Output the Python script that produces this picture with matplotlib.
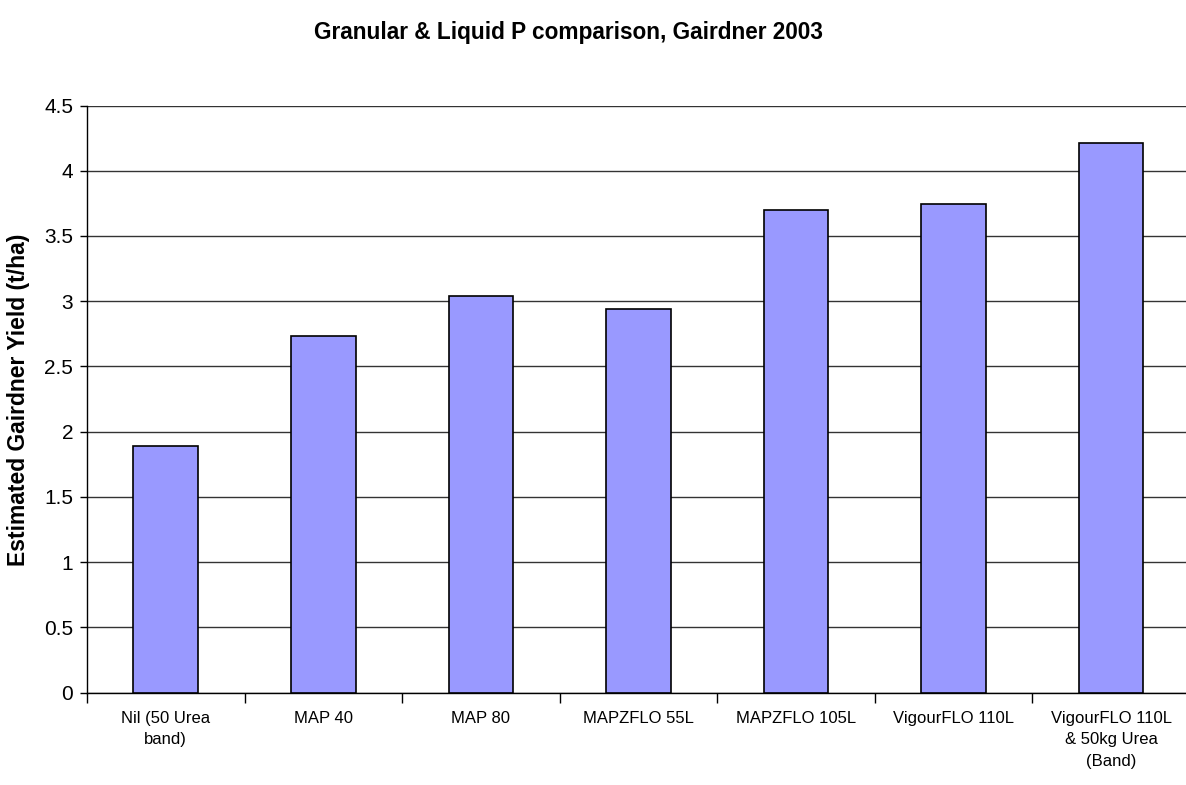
import numpy as np
import matplotlib
matplotlib.use("Agg")
from matplotlib import pyplot as plt

plt.rcParams['font.family'] = ['Liberation Sans', 'DejaVu Sans']

# data
treatments = ["Nil (50 Urea\nband)", "MAP 40", "MAP 80", "MAPZFLO 55L",
              "MAPZFLO 105L", "VigourFLO 110L", "VigourFLO 110L\n& 50kg Urea\n(Band)"]
yieldValues = [1.89, 2.73, 3.04, 2.94, 3.70, 3.745, 4.21]
yTicks = [0, 0.5, 1, 1.5, 2, 2.5, 3, 3.5, 4, 4.5]

W, H = 1186, 785
fig = plt.figure(figsize=(W / 100, H / 100), dpi=100)
ax = fig.add_axes([87 / W, 1 - 692.5 / H, 1 - 87 / W, (692.5 - 105.5) / H])

x = np.arange(len(treatments))
ax.bar(x, yieldValues, width=0.41, color="#9999FF", edgecolor="black", linewidth=1.2, zorder=3)

ax.set_xlim(-0.5, 6.475)
ax.set_ylim(0, 4.5)
ax.set_yticks(yTicks)
ax.set_yticklabels([f"{t:g}" for t in yTicks], fontsize=15)
ax.yaxis.grid(True, color="#333333", linewidth=1, zorder=0)
ax.tick_params(axis="y", direction="out", length=5, width=1, pad=5)

# category boundaries carry the ticks, labels sit in between
ax.set_xticks(np.arange(-0.5, 6.5, 1))
ax.set_xticklabels([])
ax.set_xticks(x, minor=True)
ax.set_xticklabels(treatments, minor=True, fontsize=12, linespacing=1.55, va="top")
ax.tick_params(axis="x", which="major", direction="out", length=7, width=1)
ax.tick_params(axis="x", which="minor", length=0, pad=13)

for side in ["top", "right"]:
    ax.spines[side].set_visible(False)
ax.spines["left"].set_linewidth(1)
ax.spines["bottom"].set_linewidth(1)

fig.text(568 / W, 1 - 32 / H, "Granular & Liquid P comparison, Gairdner 2003",
         fontsize=16.3, fontweight="bold", ha="center", va="center")
fig.text(19 / W, 1 - 400 / H, "Estimated Gairdner Yield (t/ha)",
         fontsize=16.5, fontweight="bold", rotation=90, ha="center", va="center")

plt.savefig("out.png", dpi=100)
plt.close()
